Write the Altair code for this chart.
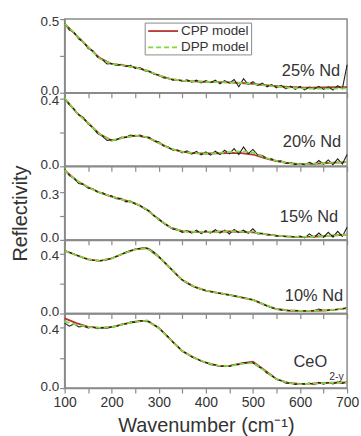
import altair as alt
import pandas as pd

FONT = "Liberation Sans"

W_DATA = list(range(100, 701, 10))
W_MODEL = list(range(100, 701, 25))

# ---- 25% Nd ----
meas_25 = [0.47, 0.425, 0.41, 0.365, 0.345, 0.30, 0.285, 0.24, 0.225, 0.195,
           0.198, 0.185, 0.192, 0.178, 0.186, 0.165, 0.17, 0.15, 0.145, 0.125,
           0.12, 0.10, 0.10, 0.085, 0.09, 0.078, 0.088, 0.072, 0.085, 0.066,
           0.082, 0.068, 0.085, 0.06, 0.082, 0.065, 0.09, 0.04, 0.095, 0.055,
           0.075, 0.048, 0.065, 0.04, 0.055, 0.033, 0.05, 0.026, 0.045, 0.022,
           0.042, 0.02, 0.038, 0.024, 0.043, 0.022, 0.04, 0.018, 0.048, 0.026, 0.19]
cpp_25 = [0.47, 0.39, 0.31, 0.235, 0.195, 0.185, 0.172, 0.15, 0.117, 0.093,
          0.082, 0.077, 0.074, 0.072, 0.070, 0.066, 0.060, 0.052, 0.045, 0.039,
          0.036, 0.035, 0.036, 0.037, 0.038]
dpp_25 = [0.47, 0.39, 0.31, 0.23, 0.195, 0.185, 0.172, 0.15, 0.117, 0.093,
          0.082, 0.077, 0.074, 0.072, 0.070, 0.066, 0.059, 0.050, 0.042, 0.035,
          0.030, 0.028, 0.027, 0.028, 0.030]

# ---- 20% Nd ----
meas_20 = [0.40, 0.365, 0.34, 0.305, 0.29, 0.25, 0.23, 0.195, 0.18, 0.153,
           0.158, 0.156, 0.172, 0.172, 0.185, 0.18, 0.185, 0.172, 0.172, 0.15,
           0.145, 0.12, 0.115, 0.095, 0.097, 0.08, 0.092, 0.072, 0.088, 0.068,
           0.085, 0.066, 0.09, 0.07, 0.095, 0.074, 0.105, 0.07, 0.115, 0.075,
           0.10, 0.068, 0.064, 0.046, 0.044, 0.029, 0.032, 0.017, 0.022, 0.01,
           0.018, 0.008, 0.024, 0.01, 0.034, 0.012, 0.038, 0.01, 0.044, 0.013, 0.07]
cpp_20 = [0.404, 0.32, 0.257, 0.19, 0.153, 0.17, 0.182, 0.173, 0.139, 0.104,
          0.085, 0.078, 0.076, 0.077, 0.079, 0.078, 0.070, 0.048, 0.031, 0.019,
          0.013, 0.014, 0.018, 0.022, 0.025]
dpp_20 = [0.404, 0.32, 0.257, 0.19, 0.153, 0.17, 0.182, 0.173, 0.139, 0.104,
          0.085, 0.078, 0.076, 0.079, 0.084, 0.089, 0.082, 0.052, 0.032, 0.019,
          0.013, 0.014, 0.018, 0.022, 0.025]

# ---- 15% Nd ----
meas_15 = [0.445, 0.405, 0.39, 0.355, 0.35, 0.325, 0.322, 0.30, 0.298, 0.28,
           0.278, 0.26, 0.262, 0.24, 0.244, 0.224, 0.218, 0.195, 0.183, 0.152,
           0.133, 0.105, 0.088, 0.067, 0.063, 0.047, 0.058, 0.042, 0.062, 0.04,
           0.058, 0.042, 0.064, 0.043, 0.062, 0.037, 0.066, 0.046, 0.061, 0.042,
           0.07, 0.037, 0.042, 0.031, 0.034, 0.024, 0.026, 0.021, 0.022, 0.018,
           0.024, 0.012, 0.038, 0.015, 0.043, 0.017, 0.048, 0.017, 0.054, 0.022, 0.08]
cpp_15 = [0.44, 0.375, 0.332, 0.298, 0.273, 0.252, 0.231, 0.19, 0.128, 0.078,
          0.055, 0.05, 0.05, 0.052, 0.053, 0.051, 0.047, 0.037, 0.027, 0.021,
          0.019, 0.02, 0.023, 0.028, 0.033]
dpp_15 = [0.44, 0.375, 0.332, 0.298, 0.273, 0.252, 0.231, 0.19, 0.128, 0.078,
          0.055, 0.05, 0.05, 0.052, 0.054, 0.052, 0.048, 0.037, 0.027, 0.021,
          0.019, 0.02, 0.023, 0.028, 0.033]

# ---- 10% Nd ----
meas_10 = [0.42, 0.41, 0.398, 0.385, 0.372, 0.363, 0.357, 0.354, 0.355, 0.36,
           0.37, 0.382, 0.395, 0.41, 0.422, 0.43, 0.437, 0.44, 0.432, 0.41,
           0.38, 0.35, 0.318, 0.285, 0.252, 0.225, 0.203, 0.186, 0.172, 0.162,
           0.153, 0.147, 0.14, 0.135, 0.128, 0.124, 0.118, 0.112, 0.105, 0.099,
           0.092, 0.08, 0.065, 0.05, 0.038, 0.03, 0.024, 0.02, 0.019, 0.018,
           0.018, 0.017, 0.019, 0.018, 0.03, 0.02, 0.022, 0.025, 0.027, 0.03, 0.038]
cpp_10 = [0.42, 0.39, 0.362, 0.353, 0.369, 0.402, 0.429, 0.438, 0.38, 0.302,
          0.224, 0.18, 0.153, 0.138, 0.124, 0.108, 0.091, 0.058, 0.03, 0.02,
          0.018, 0.018, 0.02, 0.026, 0.036]
dpp_10 = [0.42, 0.39, 0.362, 0.353, 0.369, 0.402, 0.429, 0.438, 0.38, 0.302,
          0.224, 0.18, 0.153, 0.138, 0.124, 0.108, 0.091, 0.058, 0.03, 0.02,
          0.018, 0.018, 0.02, 0.026, 0.036]

# ---- CeO2-y ----
meas_ce = [0.43, 0.41, 0.425, 0.405, 0.41, 0.398, 0.404, 0.394, 0.4, 0.397,
           0.407, 0.408, 0.423, 0.425, 0.438, 0.437, 0.447, 0.442, 0.44, 0.417,
           0.4, 0.367, 0.34, 0.302, 0.278, 0.244, 0.228, 0.205, 0.196, 0.177,
           0.171, 0.155, 0.153, 0.143, 0.146, 0.143, 0.155, 0.155, 0.168, 0.167,
           0.168, 0.145, 0.128, 0.097, 0.081, 0.057, 0.048, 0.032, 0.033, 0.024,
           0.03, 0.026, 0.033, 0.022, 0.038, 0.026, 0.037, 0.027, 0.039, 0.03, 0.04]
cpp_ce = [0.462, 0.43, 0.406, 0.398, 0.404, 0.424, 0.44, 0.446, 0.398, 0.321,
          0.245, 0.201, 0.168, 0.148, 0.147, 0.163, 0.174, 0.118, 0.06, 0.034,
          0.027, 0.029, 0.034, 0.036, 0.038]
dpp_ce = [0.44, 0.42, 0.404, 0.398, 0.404, 0.424, 0.44, 0.446, 0.398, 0.321,
          0.245, 0.201, 0.168, 0.148, 0.146, 0.16, 0.168, 0.114, 0.059, 0.033,
          0.026, 0.028, 0.033, 0.035, 0.037]

LEGEND_LABELS = ["CPP model", "DPP model"]
RED = "#b83232"
GREEN = "#7ddc3a"

panels = [
    dict(label="25% Nd", meas=meas_25, cpp=cpp_25, dpp=dpp_25, top=0.5, minor=0.25, tick=0.5, ly=52, lx=277, h=74),
    dict(label="20% Nd", meas=meas_20, cpp=cpp_20, dpp=dpp_20, top=0.437, minor=0.2, tick=0.4, ly=50, lx=278, h=74),
    dict(label="15% Nd", meas=meas_15, cpp=cpp_15, dpp=dpp_15, top=0.464, minor=0.15, tick=0.3, ly=51, lx=275, h=74),
    dict(label="10% Nd", meas=meas_10, cpp=cpp_10, dpp=dpp_10, top=0.493, minor=0.2, tick=0.4, ly=56, lx=280, h=74),
    dict(label="CeO", meas=meas_ce, cpp=cpp_ce, dpp=dpp_ce, top=0.494, minor=0.2, tick=0.4, ly=49, lx=264, h=75),
]

GRAY = "#8a8a8a"
TXT = "#333333"
X_TICKS = list(range(100, 701, 50))


def make_panel(i, p):
    last = i == len(panels) - 1
    dfm = pd.DataFrame({"w": W_DATA, "R": p["meas"]})
    dcpp = pd.DataFrame({"w": W_MODEL, "R": p["cpp"]})
    ddpp = pd.DataFrame({"w": W_MODEL, "R": p["dpp"]})
    if last:
        xaxis = alt.Axis(values=X_TICKS, labelExpr="datum.value % 100 == 0 ? datum.label : ''",
                         title="Wavenumber (cm⁻¹)", titleFontSize=20, titleFont=FONT,
                         titleFontWeight="normal", titleColor=TXT, titlePadding=6,
                         labelFontSize=14, labelFont=FONT, labelColor=TXT, labelFlush=False,
                         labelPadding=3, tickSize=5, tickColor=GRAY, domainColor=GRAY,
                         domainWidth=1.5, tickWidth=1.2, grid=False)
    else:
        xaxis = alt.Axis(values=X_TICKS, labels=False, title=None, tickSize=5, tickColor=GRAY,
                         domainColor=GRAY, domainWidth=1.5, tickWidth=1.2, grid=False)
    top = p["tick"]
    yaxis_kwargs = dict(values=[0, p["minor"], top],
                        labelExpr=f"datum.value == 0 || abs(datum.value - {top}) < 1e-6 ? format(datum.value, '.1f') : ''",
                        labelFontSize=13.5, labelFont=FONT, labelColor=TXT, labelPadding=1,
                        labelOffset={"condition": {"test": "datum.value == 0", "value": -2}, "value": 2},
                        tickSize=5, tickColor=GRAY, tickWidth=1.2, domainColor=GRAY,
                        domainWidth=1.5, grid=False)
    if i == 2:
        yaxis = alt.Axis(title="Reflectivity", titleFontSize=20, titleFont=FONT,
                         titleFontWeight="normal", titleColor=TXT, titleX=-44, titleY=47,
                         titleBaseline="middle", titleAngle=270, **yaxis_kwargs)
    else:
        yaxis = alt.Axis(title=None, **yaxis_kwargs)

    x = alt.X("w:Q", scale=alt.Scale(domain=[100, 700], nice=False, zero=False), axis=xaxis)
    y = alt.Y("R:Q", scale=alt.Scale(domain=[0, p["top"]], nice=False, zero=False), axis=yaxis)

    red = alt.Chart(dcpp).mark_line(color=RED, strokeWidth=1.8).encode(x=x, y=y)
    meas = alt.Chart(dfm).mark_line(color="#1e1e1e", strokeWidth=1.1).encode(x=x, y=y)
    green = alt.Chart(ddpp).mark_line(color=GREEN, strokeWidth=1.8, strokeDash=[5, 3]).encode(x=x, y=y)
    lab = alt.Chart(pd.DataFrame({"t": [p["label"]]})).mark_text(
        align="right", baseline="middle", fontSize=16.5, font=FONT, color=TXT
    ).encode(x=alt.value(p["lx"]), y=alt.value(p["ly"]), text="t:N")
    layers = [red, meas, green, lab]
    if last:
        sub = alt.Chart(pd.DataFrame({"t": ["2-y"]})).mark_text(
            align="left", baseline="middle", fontSize=10.5, font=FONT, color=TXT
        ).encode(x=alt.value(266), y=alt.value(64), text="t:N")
        layers.append(sub)
    if i == 0:
        box = alt.Chart(pd.DataFrame({"k": [0]})).mark_rect(
            fill="white", stroke=GRAY, strokeWidth=1
        ).encode(x=alt.value(81), x2=alt.value(188), y=alt.value(4), y2=alt.value(36))
        leg_red = alt.Chart(pd.DataFrame({"k": [0]})).mark_rule(color=RED, strokeWidth=1.8).encode(
            x=alt.value(84), x2=alt.value(114), y=alt.value(12))
        leg_green = alt.Chart(pd.DataFrame({"k": [0]})).mark_rule(
            color=GREEN, strokeWidth=1.8, strokeDash=[5, 3]).encode(
            x=alt.value(84), x2=alt.value(114), y=alt.value(28.5))
        leg_t1 = alt.Chart(pd.DataFrame({"t": [LEGEND_LABELS[0]]})).mark_text(
            align="left", baseline="middle", fontSize=13.5, font=FONT, color=TXT
        ).encode(x=alt.value(117), y=alt.value(12), text="t:N")
        leg_t2 = alt.Chart(pd.DataFrame({"t": [LEGEND_LABELS[1]]})).mark_text(
            align="left", baseline="middle", fontSize=13.5, font=FONT, color=TXT
        ).encode(x=alt.value(117), y=alt.value(28.5), text="t:N")
        layers += [box, leg_red, leg_green, leg_t1, leg_t2]
    return alt.layer(*layers).properties(width=284, height=p["h"])


chart = alt.vconcat(*[make_panel(i, p) for i, p in enumerate(panels)], spacing=0, bounds="flush").properties(
    padding={"left": 10, "top": 12, "right": 1, "bottom": 1},
    background="white",
).configure_view(stroke=GRAY, strokeWidth=1.5)

chart.save("out.html", embed_options={"renderer": "svg", "actions": False})
